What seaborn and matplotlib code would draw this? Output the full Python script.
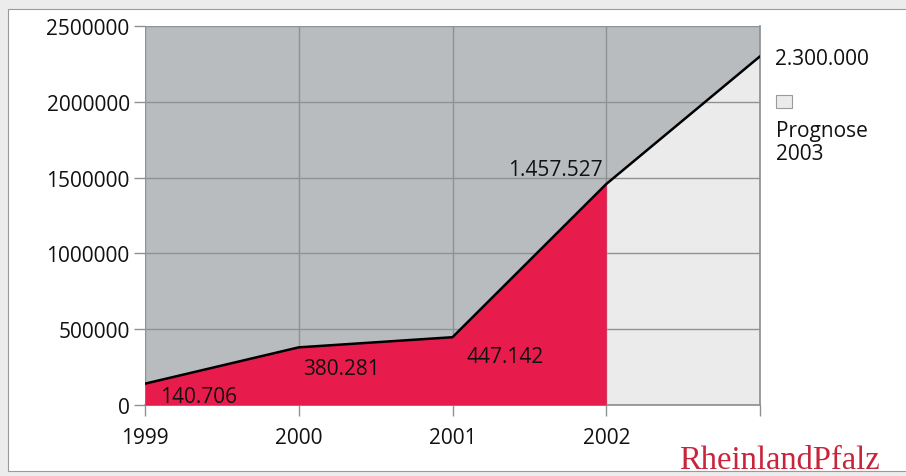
import matplotlib
matplotlib.use("Agg")
import matplotlib.pyplot as plt
import seaborn as sns
import pandas as pd
from matplotlib.patches import Rectangle

years = [1999, 2000, 2001, 2002, 2003]
users = [140706, 380281, 447142, 1457527, 2300000]
value_labels = ["140.706", "380.281", "447.142", "1.457.527", "2.300.000"]
y_ticks = [0, 500000, 1000000, 1500000, 2000000, 2500000]
x_ticks = [1999, 2000, 2001, 2002]

df = pd.DataFrame({"Jahr": years, "Nutzer": users})

sns.set_theme(style="white")
plt.rcParams["font.family"] = ["Open Sans", "DejaVu Sans"]

fig = plt.figure(figsize=(9.06, 4.77), dpi=100, facecolor="#ececec")
# white panel framing the chart
fig.add_artist(Rectangle((8 / 906, 1 - 472 / 477), 1, (472 - 10) / 477,
                         transform=fig.transFigure, facecolor="white",
                         edgecolor="#9a9a9a", linewidth=0.8, zorder=-10))

ax = fig.add_axes([145 / 906, 1 - 406 / 477, (760 - 145) / 906, (406 - 27) / 477])
ax.set_zorder(1)
ax.set_facecolor("#b9bcbf")

hist = df[df["Jahr"] <= 2002]
fore = df[df["Jahr"] >= 2002]
# forecast area sits under the grid, actual figures cover it
ax.fill_between(fore["Jahr"], 0, fore["Nutzer"], color="#ebebeb", linewidth=0, zorder=1)
ax.fill_between(hist["Jahr"], 0, hist["Nutzer"], color="#e81c4c", linewidth=0, zorder=3)

ax.set_xlim(1999, 2003)
ax.set_ylim(0, 2500000)
ax.set_xticks(x_ticks + [2003])
ax.set_xticklabels([str(y) for y in x_ticks] + [""])
ax.set_yticks(y_ticks)
ax.set_yticklabels([str(v) for v in y_ticks])
ax.grid(True, color="#8f9295", linewidth=1.0)
ax.set_axisbelow(False)

sns.lineplot(data=df, x="Jahr", y="Nutzer", ax=ax, color="black", linewidth=1.8,
             zorder=5, legend=False)
ax.set_xlabel("")
ax.set_ylabel("")

for s in ["top", "left"]:
    ax.spines[s].set_visible(False)
ax.spines["bottom"].set_color("#8f9295")
ax.spines["right"].set_color("#8f9295")
ax.tick_params(axis="both", which="both", length=8, color="#8f9295", width=1.0,
               labelsize=15, labelcolor="#111111", pad=3, direction="out",
               left=True, bottom=True)
ax.tick_params(axis="x", pad=8)

txt = dict(fontsize=15, color="#111111", zorder=6)
ax.text(years[0] + 0.1, users[0] - 85000, value_labels[0], ha="left", va="center", **txt)
ax.text(years[1] + 0.03, users[1] - 140000, value_labels[1], ha="left", va="center", **txt)
ax.text(years[2] + 0.09, users[2] - 130000, value_labels[2], ha="left", va="center", **txt)
ax.text(years[3] - 0.02, users[3] + 95000, value_labels[3], ha="right", va="center", **txt)
ax.text(years[4] + 0.1, users[4] - 15000, value_labels[4], ha="left", va="center",
        clip_on=False, **txt)

# legend entry for the forecast area
fig.add_artist(Rectangle((776 / 906, 1 - 109 / 477), 16 / 906, 13 / 477,
                         transform=fig.transFigure, facecolor="#ebebeb",
                         edgecolor="#9a9a9a", linewidth=0.8, zorder=5))
fig.text(776 / 906, 1 - 143 / 477, "Prognose\n2003", ha="left", va="center",
         fontsize=15, color="#111111", linespacing=1.15)

fig.text(880 / 906, 1 - 461 / 477, "RheinlandPfalz", ha="right", va="center",
         fontsize=23.5, color="#c8243c", family=["Liberation Serif", "DejaVu Serif"])

fig.savefig("out.png", dpi=100, facecolor=fig.get_facecolor())
